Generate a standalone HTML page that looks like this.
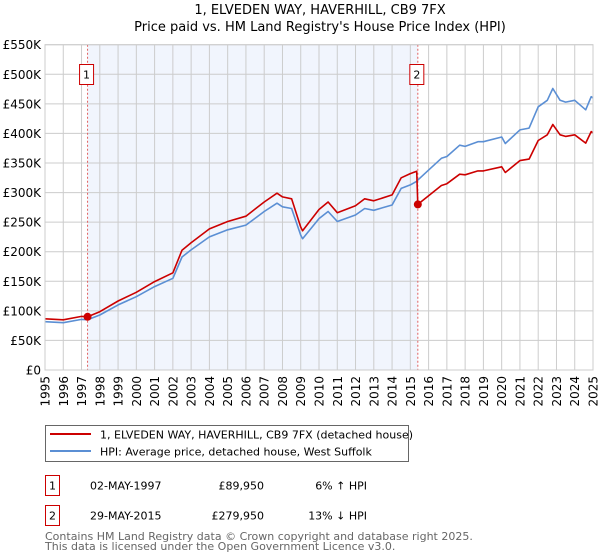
<!DOCTYPE html>
<html><head><meta charset="utf-8"><style>
body{margin:0;background:#fff;}
svg{display:block;font-family:"DejaVu Sans","Liberation Sans",sans-serif;}
</style></head><body>
<svg id="chart" width="600" height="560" viewBox="0 0 600 560">
<text x="320" y="14" font-size="13" text-anchor="middle" fill="#000">1, ELVEDEN WAY, HAVERHILL, CB9 7FX</text>
<text x="320" y="31" font-size="13" text-anchor="middle" fill="#000">Price paid vs. HM Land Registry's House Price Index (HPI)</text>
<g id="plot"></g>
<g>
<rect x="45.5" y="425.5" width="363" height="36" fill="#fff" stroke="#666"/>
<line x1="50" y1="434" x2="91" y2="434" stroke="#cc0000" stroke-width="2"/>
<text x="100" y="438.5" font-size="11">1, ELVEDEN WAY, HAVERHILL, CB9 7FX (detached house)</text>
<line x1="50" y1="451" x2="91" y2="451" stroke="#5b8fd4" stroke-width="2"/>
<text x="100" y="455.5" font-size="11">HPI: Average price, detached house, West Suffolk</text>
</g>
<g font-size="11">
<rect x="45.5" y="475.5" width="14" height="20" fill="#fff" stroke="#cc0000"/>
<text x="52.5" y="489.5" text-anchor="middle">1</text>
<text x="90" y="489.5">02-MAY-1997</text>
<text x="264" y="489.5" text-anchor="end">£89,950</text>
<text x="367" y="489.5" text-anchor="end">6% ↑ HPI</text>
<rect x="45.5" y="505.5" width="14" height="20" fill="#fff" stroke="#cc0000"/>
<text x="52.5" y="519.5" text-anchor="middle">2</text>
<text x="90" y="519.5">29-MAY-2015</text>
<text x="264" y="519.5" text-anchor="end">£279,950</text>
<text x="367" y="519.5" text-anchor="end">13% ↓ HPI</text>
</g>
<text x="45" y="540" font-size="11" fill="#666">Contains HM Land Registry data © Crown copyright and database right 2025.</text>
<text x="45" y="550" font-size="11" fill="#666">This data is licensed under the Open Government Licence v3.0.</text>
</svg>
<script>
const dates = [1995,1996,1997,1997.33,1998,1999,2000,2001,2002,2002.5,2003,2004,2005,2006,2007,2007.7,2008,2008.5,2009,2009.1,2010,2010.5,2011,2012,2012.5,2013,2014,2014.5,2015,2015.35,2015.41,2016,2016.7,2017,2017.7,2018,2018.7,2019,2020,2020.2,2021,2021.5,2022,2022.5,2022.8,2023.2,2023.5,2024,2024.6,2024.9,2025];
const hpiValues = [81.7,80,85.6,85,93,110,124,141,155,191,203,225,237,245,268,282,276,273,228,222,256,268,251,262,273,270,279,307,313,319,321,338,358,361,380,378,386,386,394,383,406,409,445,456,476,456,453,456,440,462,460];
const propertyValues = [86.6,84.8,90.7,89.95,98.6,116.6,131.4,149.5,164.3,202.5,215,238.5,251,260,284,299,292.6,289.4,241.7,235.3,271.4,284,266,277.7,289.4,286,296,325,332,336,279.95,294.7,312,315,331,330,336.6,336.6,343.6,334,354,356.6,388,397.6,415,397.6,395,397.6,383.7,403,401];
const saleDates = [1997.33,2015.41];
const salePrices = [89.95,279.95];
const saleLabels = ["1","2"];
const yTicks = [0,50,100,150,200,250,300,350,400,450,500,550];
const yTickLabels = ["£0","£50K","£100K","£150K","£200K","£250K","£300K","£350K","£400K","£450K","£500K","£550K"];
const xTicks = [1995,1996,1997,1998,1999,2000,2001,2002,2003,2004,2005,2006,2007,2008,2009,2010,2011,2012,2013,2014,2015,2016,2017,2018,2019,2020,2021,2022,2023,2024,2025];

const L=45,R=593,T=44.7,B=370;
const xs=d=>L+(d-1995)/30*(R-L);
const ys=v=>B-v/550*(B-T);
const NS="http://www.w3.org/2000/svg";
const g=document.getElementById('plot');
function mk(tag,attrs,parent){const e=document.createElementNS(NS,tag);for(const k in attrs)e.setAttribute(k,attrs[k]);(parent||g).appendChild(e);return e;}

let e=mk('rect',{x:xs(saleDates[0]),y:T,width:xs(saleDates[1])-xs(saleDates[0]),height:B-T,fill:'#eef3fd',opacity:0.8});


xTicks.forEach(t=>{
  const l=mk('line',{x1:xs(t),x2:xs(t),y1:T,y2:B,stroke:'#ccc','stroke-width':1});
  
  
  const tx=mk('text',{x:0,y:0,'font-size':12,'text-anchor':'end',transform:`translate(${xs(t)+4.5},${B+6}) rotate(-90)`});
  tx.textContent=t;
  
  
});
yTicks.forEach((t,i)=>{
  const l=mk('line',{x1:L,x2:R,y1:ys(t),y2:ys(t),stroke:'#ccc','stroke-width':1});
  
  
  const tx=mk('text',{x:L-4,y:ys(t)+4.5,'font-size':12,'text-anchor':'end'});
  tx.textContent=yTickLabels[i];
  
  
});
saleDates.forEach((d,i)=>{
  const l=mk('line',{x1:xs(d),x2:xs(d),y1:T,y2:B,stroke:'#e06060','stroke-width':1,'stroke-dasharray':'2,2'});
  
  
});
function path(vals,color,name){
  const p=mk('path',{d:dates.map((d,i)=>(i?'L':'M')+xs(d).toFixed(1)+','+ys(vals[i]).toFixed(1)).join(''),fill:'none',stroke:color,'stroke-width':1.6,'stroke-linejoin':'round'});
  
  
}
path(hpiValues,'#5b8fd4','hpi-line');
path(propertyValues,'#cc0000','property-price-line');
saleDates.forEach((d,i)=>{
  const c=mk('circle',{cx:xs(d),cy:ys(salePrices[i]),r:4,fill:'#cc0000'});
  
  
  const bx=xs(d)-7.5;
  const r=mk('rect',{x:bx-0.5,y:64.5,width:14,height:20,fill:'#fff',stroke:'#cc0000'});
  
  
  const t=mk('text',{x:bx+6.5,y:78.5,'font-size':11,'text-anchor':'middle'});
  t.textContent=saleLabels[i];
  
  
});
const ax=mk('rect',{x:L,y:T,width:R-L,height:B-T,fill:'none',stroke:'#ccc'});


</script>
</body></html>
